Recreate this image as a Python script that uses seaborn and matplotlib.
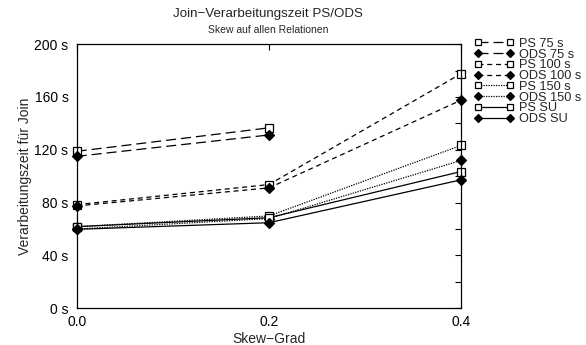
import matplotlib
matplotlib.use("Agg")
import matplotlib.pyplot as plt
import seaborn as sns
import pandas as pd
from matplotlib.ticker import MultipleLocator, FuncFormatter

sns.set_theme(style="white")
plt.rcParams['font.family'] = ['Liberation Sans', 'DejaVu Sans']

skew = [0.0, 0.2, 0.4]
skew_75 = [0.0, 0.2]
ps_75 = [118.8, 136.6]
ods_75 = [115.0, 131.2]
ps_100 = [78.4, 93.6, 177.7]
ods_100 = [77.4, 91.1, 157.6]
ps_150 = [61.7, 69.8, 123.3]
ods_150 = [59.9, 67.8, 111.9]
ps_su = [61.7, 68.5, 103.5]
ods_su = [59.7, 64.7, 97.2]
labels = ["PS 75 s", "ODS 75 s", "PS 100 s", "ODS 100 s",
          "PS 150 s", "ODS 150 s", "PS SU", "ODS SU"]

series = [
    (skew_75, ps_75, labels[0], (0, (8, 4)), 's'),
    (skew_75, ods_75, labels[1], (0, (8, 4)), 'D'),
    (skew, ps_100, labels[2], (0, (4, 3)), 's'),
    (skew, ods_100, labels[3], (0, (4, 3)), 'D'),
    (skew, ps_150, labels[4], (0, (1, 1)), 's'),
    (skew, ods_150, labels[5], (0, (1, 1)), 'D'),
    (skew, ps_su, labels[6], '-', 's'),
    (skew, ods_su, labels[7], '-', 'D'),
]

fig = plt.figure(figsize=(5.86, 3.45), dpi=100)
ax = fig.add_axes([0.131, 0.107, 0.656, 0.765])

for xs, ys, lab, ls, mk in series:
    df = pd.DataFrame({"x": xs, "y": ys})
    if mk == 's':
        mkw = dict(marker='s', markersize=6, markerfacecolor='white',
                   markeredgecolor='black', markeredgewidth=0.9)
    else:
        mkw = dict(marker='D', markersize=5.5, markerfacecolor='black',
                   markeredgecolor='black', markeredgewidth=0.9)
    sns.lineplot(data=df, x="x", y="y", ax=ax, color='black', linewidth=0.9,
                 linestyle=ls, label=lab, clip_on=False, **mkw)

ax.set_xlim(0.0, 0.4)
ax.set_ylim(0, 200)
ax.set_xticks([0.0, 0.2, 0.4])
ax.set_xticklabels(["0.0", "0.2", "0.4"])
ax.yaxis.set_major_locator(MultipleLocator(40))
ax.yaxis.set_minor_locator(MultipleLocator(20))
ax.yaxis.set_major_formatter(FuncFormatter(lambda v, p: f"{int(v)} s"))
ax.tick_params(axis='both', which='both', direction='in', length=4, width=0.8,
               top=True, right=True, labelsize=10, colors='black')
ax.tick_params(axis='y', pad=6)
ax.tick_params(axis='x', pad=5)
for s in ax.spines.values():
    s.set_color('black')
    s.set_linewidth(0.9)

ax.set_xlabel("Skew\u2212Grad", fontsize=10, labelpad=2)
ax.set_ylabel("Verarbeitungszeit f\u00fcr Join", fontsize=10, labelpad=2)

fig.text(0.458, 0.959, "Join\u2212Verarbeitungszeit PS/ODS", ha='center', va='center', fontsize=9.6)
fig.text(0.458, 0.913, "Skew auf allen Relationen", ha='center', va='center', fontsize=7.5)

leg = ax.legend(loc='upper left', bbox_to_anchor=(0.809, 0.890),
                bbox_transform=fig.transFigure, frameon=False, numpoints=2,
                handlelength=3.1, handletextpad=0.45, labelspacing=-0.1,
                fontsize=9.2, borderaxespad=0, borderpad=0, markerscale=0.8)

fig.savefig("out.png", dpi=100)
